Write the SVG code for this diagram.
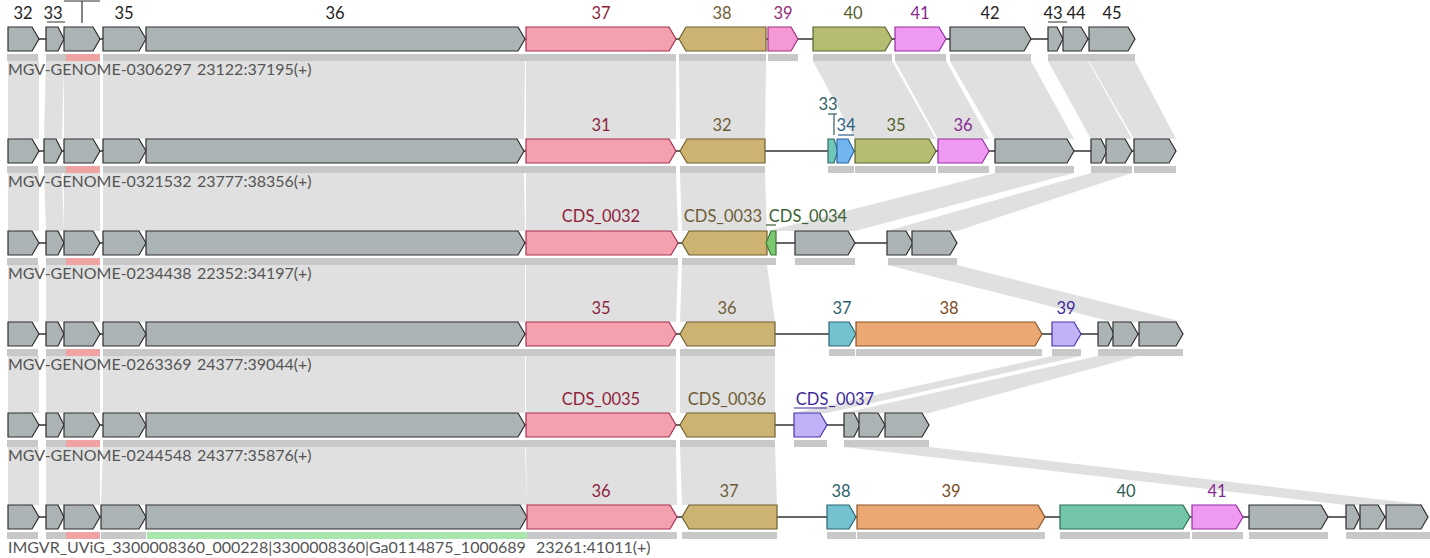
<svg xmlns="http://www.w3.org/2000/svg" width="1430" height="558" viewBox="0 0 1430 558">
<style>
.lk{fill:#e0e0e0;stroke:none}
.bar{fill:#c8c8c8}
.pbar{fill:#f0a3a3}
.gbar{fill:#a9e6ae}
.bb{stroke:#333;stroke-width:1.5;fill:none}
.g{stroke-width:1.2;stroke-linejoin:miter}
.grey{fill:#abb3b4;stroke:#2e2e2e}
.pink{fill:#f5a0ae;stroke:#a83050}
.tan{fill:#ccb371;stroke:#6f5f30}
.mag{fill:#f598d6;stroke:#a0307c}
.olive{fill:#b6bd72;stroke:#5a6232}
.vio{fill:#ee9af2;stroke:#962ca0}
.teal{fill:#70c6b9;stroke:#2d6d68}
.blue{fill:#72b6f0;stroke:#2a64a8}
.green{fill:#7cc872;stroke:#3a7a32}
.cyan{fill:#74c1d0;stroke:#2d6474}
.orange{fill:#eba873;stroke:#8a5226}
.lav{fill:#c1b1f6;stroke:#4a32b0}
.sea{fill:#74c6a9;stroke:#2d6c55}
.gl{font-family:Lato,"Liberation Sans",sans-serif;font-size:16.5px;text-anchor:middle}
.rl{font-family:Lato,"Liberation Sans",sans-serif;font-size:16px;fill:#555}
.tgrey{fill:#222}.tpink{fill:#8e1f3d}.ttan{fill:#6e5d34}.tmag{fill:#952a78}.tolive{fill:#565e2c}.tvio{fill:#862a92}.tteal{fill:#2f5f64}.tblue{fill:#2d5f85}.tgreen{fill:#3d6234}.tcyan{fill:#2f5f6c}.torange{fill:#7a4c25}.tlav{fill:#3e2a9c}.tsea{fill:#2f5c50}
.ul{stroke-width:1.2;fill:none}
</style>
<rect width="1430" height="558" fill="#fff"/>
<g id="connectors">
<polygon class="lk" points="8,61 39,61 39,139 8,139"/>
<polygon class="lk" points="46,61 64,61 62,139 44,139"/>
<polygon class="lk" points="64,61 100,61 100,139 64,139"/>
<polygon class="lk" points="103,61 146,61 146,139 103,139"/>
<polygon class="lk" points="146,61 525,61 524,139 146,139"/>
<polygon class="lk" points="526,61 676,61 676,139 526,139"/>
<polygon class="lk" points="679,61 766,61 765,139 680,139"/>
<polygon class="lk" points="813,61 892,61 936,139 855,139"/>
<polygon class="lk" points="895,61 946,61 989,139 938,139"/>
<polygon class="lk" points="950,61 1031,61 1074,139 995,139"/>
<polygon class="lk" points="1048,61 1063,61 1107,139 1091,139"/>
<polygon class="lk" points="1063,61 1088,61 1132,139 1106,139"/>
<polygon class="lk" points="1089,61 1135,61 1176,139 1134,139"/>
<polygon class="lk" points="8,173 39,173 39,231 8,231"/>
<polygon class="lk" points="44,173 62,173 64,231 46,231"/>
<polygon class="lk" points="64,173 100,173 100,231 64,231"/>
<polygon class="lk" points="103,173 146,173 146,231 103,231"/>
<polygon class="lk" points="146,173 524,173 525,231 146,231"/>
<polygon class="lk" points="526,173 676,173 678,231 526,231"/>
<polygon class="lk" points="680,173 765,173 767,231 682,231"/>
<polygon class="lk" points="995,173 1074,173 855,231 768,231"/>
<polygon class="lk" points="1091,173 1132,173 957,231 887,231"/>
<polygon class="lk" points="8,265 39,265 39,322 8,322"/>
<polygon class="lk" points="46,265 64,265 64,322 46,322"/>
<polygon class="lk" points="64,265 100,265 100,322 64,322"/>
<polygon class="lk" points="103,265 146,265 146,322 103,322"/>
<polygon class="lk" points="146,265 525,265 525,322 146,322"/>
<polygon class="lk" points="526,265 678,265 676,322 526,322"/>
<polygon class="lk" points="682,265 767,265 775,322 680,322"/>
<polygon class="lk" points="887,265 957,265 1183,322 1113,322"/>
<polygon class="lk" points="8,356 39,356 39,413 8,413"/>
<polygon class="lk" points="46,356 64,356 64,413 46,413"/>
<polygon class="lk" points="64,356 100,356 100,413 64,413"/>
<polygon class="lk" points="103,356 146,356 146,413 103,413"/>
<polygon class="lk" points="146,356 525,356 525,413 146,413"/>
<polygon class="lk" points="526,356 676,356 676,413 526,413"/>
<polygon class="lk" points="680,356 775,356 775,413 680,413"/>
<polygon class="lk" points="1052,356 1081,356 827,413 794,413"/>
<polygon class="lk" points="1098,356 1138,356 929,413 844,413"/>
<polygon class="lk" points="8,447 39,447 39,505 8,505"/>
<polygon class="lk" points="46,447 64,447 64,505 46,505"/>
<polygon class="lk" points="64,447 100,447 100,505 64,505"/>
<polygon class="lk" points="103,447 146,447 146,505 101,505"/>
<polygon class="lk" points="146,447 525,447 527,505 146,505"/>
<polygon class="lk" points="526,447 676,447 677,505 527,505"/>
<polygon class="lk" points="680,447 775,447 777,505 682,505"/>
<polygon class="lk" points="844,447 929,447 1428,505 1346,505"/>
</g>
<g id="bars">
<rect class="bar" x="7" y="54" width="31" height="7"/><rect class="bar" x="46" y="54" width="54" height="7"/><rect class="pbar" x="66" y="54" width="34" height="7"/><rect class="bar" x="103" y="54" width="573" height="7"/><rect class="bar" x="679" y="54" width="87" height="7"/><rect class="bar" x="768" y="54" width="30" height="7"/><rect class="bar" x="813" y="54" width="79" height="7"/><rect class="bar" x="895" y="54" width="51" height="7"/><rect class="bar" x="950" y="54" width="81" height="7"/><rect class="bar" x="1048" y="54" width="87" height="7"/>
<rect class="bar" x="7" y="166" width="31" height="7"/><rect class="bar" x="44" y="166" width="56" height="7"/><rect class="pbar" x="66" y="166" width="34" height="7"/><rect class="bar" x="103" y="166" width="573" height="7"/><rect class="bar" x="680" y="166" width="85" height="7"/><rect class="bar" x="828" y="166" width="26" height="7"/><rect class="bar" x="855" y="166" width="81" height="7"/><rect class="bar" x="938" y="166" width="51" height="7"/><rect class="bar" x="995" y="166" width="79" height="7"/><rect class="bar" x="1091" y="166" width="41" height="7"/><rect class="bar" x="1134" y="166" width="42" height="7"/>
<rect class="bar" x="7" y="258" width="31" height="7"/><rect class="bar" x="46" y="258" width="54" height="7"/><rect class="pbar" x="66" y="258" width="34" height="7"/><rect class="bar" x="103" y="258" width="575" height="7"/><rect class="bar" x="682" y="258" width="94" height="7"/><rect class="bar" x="795" y="258" width="60" height="7"/><rect class="bar" x="888" y="258" width="69" height="7"/>
<rect class="bar" x="7" y="349" width="31" height="7"/><rect class="bar" x="46" y="349" width="54" height="7"/><rect class="pbar" x="66" y="349" width="34" height="7"/><rect class="bar" x="103" y="349" width="573" height="7"/><rect class="bar" x="680" y="349" width="95" height="7"/><rect class="bar" x="829" y="349" width="26" height="7"/><rect class="bar" x="856" y="349" width="186" height="7"/><rect class="bar" x="1052" y="349" width="29" height="7"/><rect class="bar" x="1098" y="349" width="85" height="7"/>
<rect class="bar" x="7" y="440" width="31" height="7"/><rect class="bar" x="46" y="440" width="54" height="7"/><rect class="pbar" x="66" y="440" width="34" height="7"/><rect class="bar" x="103" y="440" width="573" height="7"/><rect class="bar" x="680" y="440" width="95" height="7"/><rect class="bar" x="794" y="440" width="33" height="7"/><rect class="bar" x="844" y="440" width="85" height="7"/>
<rect class="bar" x="7" y="532" width="31" height="7"/><rect class="bar" x="46" y="532" width="54" height="7"/><rect class="pbar" x="66" y="532" width="34" height="7"/><rect class="bar" x="101" y="532" width="45" height="7"/><rect class="gbar" x="147" y="532" width="380" height="7"/><rect class="bar" x="527" y="532" width="150" height="7"/><rect class="bar" x="682" y="532" width="95" height="7"/><rect class="bar" x="827" y="532" width="29" height="7"/><rect class="bar" x="857" y="532" width="188" height="7"/><rect class="bar" x="1060" y="532" width="130" height="7"/><rect class="bar" x="1192" y="532" width="51" height="7"/><rect class="bar" x="1249" y="532" width="79" height="7"/><rect class="bar" x="1346" y="532" width="84" height="7"/>
</g>
<g id="row1">
<line class="bb" x1="8" y1="39" x2="1135" y2="39"/>
<polygon class="g grey" points="8,27 32,27 39,39 32,51 8,51"/>
<polygon class="g grey" points="46,27 58,27 64,39 58,51 46,51"/>
<polygon class="g grey" points="64,27 93,27 100,39 93,51 64,51"/>
<polygon class="g grey" points="103,27 139,27 146,39 139,51 103,51"/>
<polygon class="g grey" points="146,27 518,27 525,39 518,51 146,51"/>
<polygon class="g pink" points="526,27 669,27 676,39 669,51 526,51"/>
<polygon class="g tan" points="766,27 686,27 679,39 686,51 766,51"/>
<polygon class="g mag" points="768,27 791,27 798,39 791,51 768,51"/>
<polygon class="g olive" points="813,27 885,27 892,39 885,51 813,51"/>
<polygon class="g vio" points="895,27 939,27 946,39 939,51 895,51"/>
<polygon class="g grey" points="950,27 1024,27 1031,39 1024,51 950,51"/>
<polygon class="g grey" points="1048,27 1057,27 1063,39 1057,51 1048,51"/>
<polygon class="g grey" points="1063,27 1081,27 1088,39 1081,51 1063,51"/>
<polygon class="g grey" points="1089,27 1128,27 1135,39 1128,51 1089,51"/>
<text class="gl tgrey" x="23" y="19">32</text>
<text class="gl tgrey" x="53" y="19">33</text>
<line class="ul" stroke="#555" x1="47" y1="22" x2="65" y2="22"/>
<line class="ul" stroke="#333" x1="64" y1="1" x2="100" y2="1"/>
<line class="ul" stroke="#333" x1="82" y1="1" x2="82" y2="23"/>
<text class="gl tgrey" x="124" y="19">35</text>
<text class="gl tgrey" x="335" y="19">36</text>
<text class="gl tpink" x="601" y="19">37</text>
<text class="gl ttan" x="722" y="19">38</text>
<text class="gl tmag" x="783" y="19">39</text>
<text class="gl tolive" x="853" y="19">40</text>
<text class="gl tvio" x="920" y="19">41</text>
<text class="gl tgrey" x="990" y="19">42</text>
<text class="gl tgrey" x="1053" y="19">43</text>
<line class="ul" stroke="#555" x1="1048" y1="22" x2="1067" y2="22"/>
<text class="gl tgrey" x="1076" y="19">44</text>
<text class="gl tgrey" x="1112" y="19">45</text>
<text class="rl" x="8" y="75">MGV-GENOME-0306297</text><text class="rl" x="197" y="75">23122:37195(+)</text>
</g>
<g id="row2">
<line class="bb" x1="8" y1="151" x2="1176" y2="151"/>
<polygon class="g grey" points="8,139 32,139 39,151 32,163 8,163"/>
<polygon class="g grey" points="44,139 56,139 62,151 56,163 44,163"/>
<polygon class="g grey" points="64,139 93,139 100,151 93,163 64,163"/>
<polygon class="g grey" points="103,139 139,139 146,151 139,163 103,163"/>
<polygon class="g grey" points="146,139 517,139 524,151 517,163 146,163"/>
<polygon class="g pink" points="526,139 669,139 676,151 669,163 526,163"/>
<polygon class="g tan" points="765,139 687,139 680,151 687,163 765,163"/>
<polygon class="g teal" points="828,139 834,139 838,151 834,163 828,163"/>
<polygon class="g blue" points="837,139 848,139 854,151 848,163 837,163"/>
<polygon class="g olive" points="855,139 929,139 936,151 929,163 855,163"/>
<polygon class="g vio" points="938,139 982,139 989,151 982,163 938,163"/>
<polygon class="g grey" points="995,139 1067,139 1074,151 1067,163 995,163"/>
<polygon class="g grey" points="1091,139 1101,139 1107,151 1101,163 1091,163"/>
<polygon class="g grey" points="1106,139 1125,139 1132,151 1125,163 1106,163"/>
<polygon class="g grey" points="1134,139 1169,139 1176,151 1169,163 1134,163"/>
<text class="gl tpink" x="601" y="131">31</text>
<text class="gl ttan" x="722" y="131">32</text>
<text class="gl tteal" x="828" y="110">33</text>
<line class="ul" stroke="#2f5f64" x1="828" y1="114" x2="837" y2="114"/>
<line class="ul" stroke="#2f5f64" x1="834" y1="114" x2="834" y2="135"/>
<text class="gl tblue" x="846" y="131">34</text>
<line class="ul" stroke="#2d5f85" x1="838" y1="135" x2="854" y2="135"/>
<text class="gl tolive" x="896" y="131">35</text>
<text class="gl tvio" x="963" y="131">36</text>
<text class="rl" x="8" y="187">MGV-GENOME-0321532</text><text class="rl" x="197" y="187">23777:38356(+)</text>
</g>
<g id="row3">
<line class="bb" x1="8" y1="243" x2="957" y2="243"/>
<polygon class="g grey" points="8,231 32,231 39,243 32,255 8,255"/>
<polygon class="g grey" points="46,231 58,231 64,243 58,255 46,255"/>
<polygon class="g grey" points="64,231 93,231 100,243 93,255 64,255"/>
<polygon class="g grey" points="103,231 139,231 146,243 139,255 103,255"/>
<polygon class="g grey" points="146,231 518,231 525,243 518,255 146,255"/>
<polygon class="g pink" points="526,231 671,231 678,243 671,255 526,255"/>
<polygon class="g tan" points="767,231 689,231 682,243 689,255 767,255"/>
<polygon class="g green" points="776,231 771,231 766,243 771,255 776,255"/>
<polygon class="g grey" points="795,231 848,231 855,243 848,255 795,255"/>
<polygon class="g grey" points="887,231 906,231 913,243 906,255 887,255"/>
<polygon class="g grey" points="912,231 950,231 957,243 950,255 912,255"/>
<text class="gl tpink" x="601" y="222">CDS_0032</text>
<text class="gl ttan" x="723" y="222">CDS_0033</text>
<text class="gl tgreen" x="808" y="222">CDS_0034</text>
<line class="ul" stroke="#3d6234" x1="766" y1="225" x2="776" y2="225"/>
<text class="rl" x="8" y="279">MGV-GENOME-0234438</text><text class="rl" x="197" y="279">22352:34197(+)</text>
</g>
<g id="row4">
<line class="bb" x1="8" y1="334" x2="1183" y2="334"/>
<polygon class="g grey" points="8,322 32,322 39,334 32,346 8,346"/>
<polygon class="g grey" points="46,322 58,322 64,334 58,346 46,346"/>
<polygon class="g grey" points="64,322 93,322 100,334 93,346 64,346"/>
<polygon class="g grey" points="103,322 139,322 146,334 139,346 103,346"/>
<polygon class="g grey" points="146,322 518,322 525,334 518,346 146,346"/>
<polygon class="g pink" points="526,322 669,322 676,334 669,346 526,346"/>
<polygon class="g tan" points="775,322 687,322 680,334 687,346 775,346"/>
<polygon class="g cyan" points="829,322 849,322 856,334 849,346 829,346"/>
<polygon class="g orange" points="856,322 1035,322 1042,334 1035,346 856,346"/>
<polygon class="g lav" points="1052,322 1074,322 1081,334 1074,346 1052,346"/>
<polygon class="g grey" points="1098,322 1108,322 1114,334 1108,346 1098,346"/>
<polygon class="g grey" points="1113,322 1131,322 1138,334 1131,346 1113,346"/>
<polygon class="g grey" points="1139,322 1176,322 1183,334 1176,346 1139,346"/>
<text class="gl tpink" x="601" y="314">35</text>
<text class="gl ttan" x="727" y="314">36</text>
<text class="gl tcyan" x="842" y="314">37</text>
<text class="gl torange" x="949" y="314">38</text>
<text class="gl tlav" x="1066" y="314">39</text>
<text class="rl" x="8" y="370">MGV-GENOME-0263369</text><text class="rl" x="197" y="370">24377:39044(+)</text>
</g>
<g id="row5">
<line class="bb" x1="8" y1="425" x2="929" y2="425"/>
<polygon class="g grey" points="8,413 32,413 39,425 32,437 8,437"/>
<polygon class="g grey" points="46,413 58,413 64,425 58,437 46,437"/>
<polygon class="g grey" points="64,413 93,413 100,425 93,437 64,437"/>
<polygon class="g grey" points="103,413 139,413 146,425 139,437 103,437"/>
<polygon class="g grey" points="146,413 518,413 525,425 518,437 146,437"/>
<polygon class="g pink" points="526,413 669,413 676,425 669,437 526,437"/>
<polygon class="g tan" points="775,413 687,413 680,425 687,437 775,437"/>
<polygon class="g lav" points="794,413 820,413 827,425 820,437 794,437"/>
<polygon class="g grey" points="844,413 854,413 860,425 854,437 844,437"/>
<polygon class="g grey" points="859,413 878,413 885,425 878,437 859,437"/>
<polygon class="g grey" points="885,413 922,413 929,425 922,437 885,437"/>
<text class="gl tpink" x="601" y="405">CDS_0035</text>
<text class="gl ttan" x="727" y="405">CDS_0036</text>
<text class="gl tlav" x="835" y="405">CDS_0037</text>
<line class="ul" stroke="#3e2a9c" x1="794" y1="408" x2="827" y2="408"/>
<text class="rl" x="8" y="461">MGV-GENOME-0244548</text><text class="rl" x="197" y="461">24377:35876(+)</text>
</g>
<g id="row6">
<line class="bb" x1="8" y1="517" x2="1428" y2="517"/>
<polygon class="g grey" points="8,505 32,505 39,517 32,529 8,529"/>
<polygon class="g grey" points="46,505 58,505 64,517 58,529 46,529"/>
<polygon class="g grey" points="64,505 93,505 100,517 93,529 64,529"/>
<polygon class="g grey" points="101,505 139,505 146,517 139,529 101,529"/>
<polygon class="g grey" points="146,505 520,505 527,517 520,529 146,529"/>
<polygon class="g pink" points="527,505 670,505 677,517 670,529 527,529"/>
<polygon class="g tan" points="777,505 689,505 682,517 689,529 777,529"/>
<polygon class="g cyan" points="827,505 849,505 856,517 849,529 827,529"/>
<polygon class="g orange" points="857,505 1038,505 1045,517 1038,529 857,529"/>
<polygon class="g sea" points="1060,505 1183,505 1190,517 1183,529 1060,529"/>
<polygon class="g vio" points="1192,505 1236,505 1243,517 1236,529 1192,529"/>
<polygon class="g grey" points="1249,505 1321,505 1328,517 1321,529 1249,529"/>
<polygon class="g grey" points="1346,505 1354,505 1360,517 1354,529 1346,529"/>
<polygon class="g grey" points="1360,505 1378,505 1385,517 1378,529 1360,529"/>
<polygon class="g grey" points="1386,505 1421,505 1428,517 1421,529 1386,529"/>
<text class="gl tpink" x="601" y="497">36</text>
<text class="gl ttan" x="729" y="497">37</text>
<text class="gl tcyan" x="841" y="497">38</text>
<text class="gl torange" x="951" y="497">39</text>
<text class="gl tsea" x="1126" y="497">40</text>
<text class="gl tvio" x="1217" y="497">41</text>
<text class="rl" x="8" y="553">IMGVR_UViG_3300008360_000228|3300008360|Ga0114875_1000689</text><text class="rl" x="536" y="553">23261:41011(+)</text>
</g>
</svg>
